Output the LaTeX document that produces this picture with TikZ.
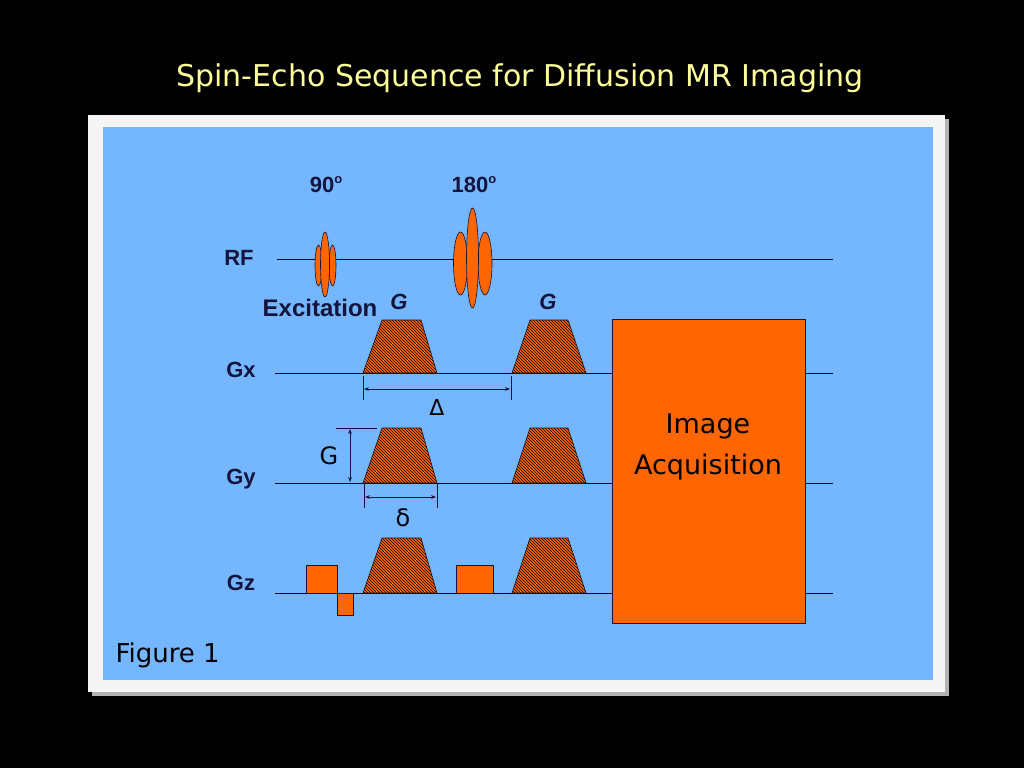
\documentclass[tikz,border=0pt]{standalone}
\usepackage{fontspec}
\setmainfont{Liberation Sans}
\newfontfamily\dv{DejaVu Sans}
\usetikzlibrary{patterns,arrows.meta}
\definecolor{bluebg}{HTML}{74B6FF}
\definecolor{org}{HTML}{FF6600}
\definecolor{navy}{HTML}{14143C}
\definecolor{ttl}{HTML}{FFFF99}
\tikzset{
 x=1pt,y=-1pt,
 axis/.style={line width=0.9pt},
 lab/.style={font=\bfseries\fontsize{22}{24}\selectfont,text=navy},
 pulse/.style={fill=org,draw=navy,line width=0.6pt},
 grad/.style={fill=org,draw=navy,line width=0.6pt,postaction={pattern=north west lines,pattern color=black}},
 dim/.style={line width=0.6pt,navy},
 dimarr/.style={line width=0.6pt,navy,{Stealth[length=5pt]}-{Stealth[length=5pt]}}
}
\begin{document}
\begin{tikzpicture}
\useasboundingbox (0,0) rectangle (1024,768);
\fill[black] (0,0) rectangle (1024,768);
\node[font=\dv\fontsize{30}{34}\selectfont,text=ttl] (title) at (520,78) {Spin-Echo Sequence for Diffusion MR Imaging};
\fill[gray!60] (92,119) rectangle (949,696);
\fill[gray!8] (88,115) rectangle (945,692);
\fill[bluebg] (103,127) rectangle (933,680);
% axes
\coordinate (rfa) at (277,259); \coordinate (rfb) at (833,259);
\draw[axis] (rfa) -- (rfb);
\foreach \n/\y in {gx/373,gy/483,gz/593}{
 \coordinate (\n a) at (275,\y); \coordinate (\n b) at (833,\y);
 \draw[axis] (\n a) -- (\n b);}
\node[lab] (lrf) at (239,258) {RF};
\node[lab] (lgx) at (241,370) {Gx};
\node[lab] (lgy) at (241,479) {Gy};
\node[lab] (lgz) at (241,583) {Gz};
% RF pulses
\draw[pulse] (318.5,265.5) ellipse (3.5 and 20.5);
\draw[pulse] (332.5,265.5) ellipse (3.5 and 20.5);
\draw[pulse] (325,264.5) ellipse (4.5 and 32.5);
\draw[pulse] (460.5,263.5) ellipse (7 and 31.5);
\draw[pulse] (485,263.5) ellipse (7 and 31.5);
\draw[pulse] (472.5,258) ellipse (6 and 50);
\node[lab] (n90) at (326,185) {90\raisebox{0.4em}{\fontsize{13}{13}\selectfont o}};
\node[lab] (n180) at (474,185) {180\raisebox{0.4em}{\fontsize{13}{13}\selectfont o}};
\node[lab,font=\bfseries\fontsize{24}{26}\selectfont] (exc) at (320,308) {Excitation};
\node[lab,font=\bfseries\itshape\fontsize{22}{24}\selectfont] (g1) at (399,302) {G};
\node[lab,font=\bfseries\itshape\fontsize{22}{24}\selectfont] (g2) at (548,302) {G};
% gradients
\foreach \y/\t in {373/320,483/428,593/538}{
 \draw[grad] (363,\y) -- (382,\t) -- (421,\t) -- (437,\y) -- cycle;
 \draw[grad] (512,\y) -- (530,\t) -- (568,\t) -- (586,\y) -- cycle;}
% Gz rects
\draw[pulse] (306,565) rectangle (337,593);
\draw[pulse] (337,593) rectangle (353,615);
\draw[pulse] (456,565) rectangle (493,593);
% image acq
\node[draw=navy,fill=org,line width=0.6pt,minimum width=193pt,minimum height=304pt,anchor=north west,inner sep=0pt] (acq) at (612,319) {};
\node[align=center,font=\dv\fontsize{27}{41}\selectfont] (acqt) at (708,447) {Image\\Acquisition};
% dims
\coordinate (d1a) at (363,376); \coordinate (d1b) at (363,400);
\coordinate (d2a) at (511,376); \coordinate (d2b) at (511,400);
\draw[dim] (d1a) -- (d1b); \draw[dim] (d2a) -- (d2b);
\coordinate (D1) at (364,389); \coordinate (D2) at (510,389);
\draw[dimarr] (D1) -- (D2);
\node[font=\dv\fontsize{22}{24}\selectfont] (Delta) at (437,407) {Δ};
\coordinate (h1) at (336,428); \coordinate (h2) at (377,428);
\draw[dim] (h1) -- (h2);
\coordinate (v1) at (350,429); \coordinate (v2) at (350,482);
\draw[dimarr] (v1) -- (v2);
\node[font=\dv\fontsize{24}{26}\selectfont] (Gt) at (329,456) {G};
\coordinate (e1a) at (364,483); \coordinate (e1b) at (364,508);
\coordinate (e2a) at (437,483); \coordinate (e2b) at (437,508);
\draw[dim] (e1a) -- (e1b); \draw[dim] (e2a) -- (e2b);
\coordinate (E1) at (365,497); \coordinate (E2) at (436,497);
\draw[dimarr] (E1) -- (E2);
\node[font=\dv\fontsize{24}{26}\selectfont] (delta) at (403,518) {δ};
\node[font=\dv\fontsize{26}{28}\selectfont,anchor=west] (fig) at (112,655) {Figure 1};
\end{tikzpicture}
\end{document}
